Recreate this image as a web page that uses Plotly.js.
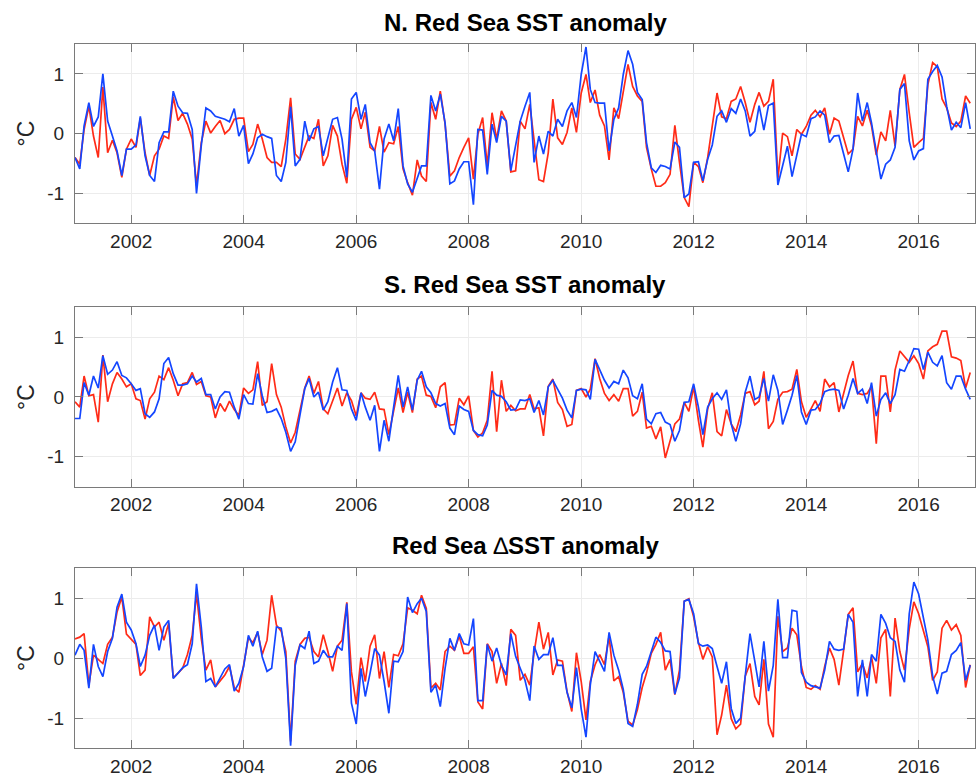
<!DOCTYPE html>
<html>
<head>
<meta charset="utf-8">
<script src="https://cdn.plot.ly/plotly-3.0.1.min.js"></script>
<style>
  html, body { margin: 0; padding: 0; background: #ffffff; }
  #chart { width: 977px; height: 777px; }
</style>
</head>
<body>
<div id="chart"></div>
<script>
// Monthly SST anomalies (°C), January 2001 – December 2016, one row per year.
const startYear = 2001;
const endYear = 2016;

const northBlue = [
  -0.40,-0.59,0.13,0.52,0.12,0.28,1.00,0.21,-0.04,-0.29,-0.70,-0.26,
  -0.26,-0.19,0.29,-0.37,-0.70,-0.80,-0.15,0.03,0.03,0.71,0.46,0.35,
  0.34,0.07,-1.00,-0.20,0.43,0.38,0.29,0.27,0.24,0.20,0.42,-0.04,
  0.14,-0.50,-0.34,-0.07,-0.01,-0.05,-0.08,-0.70,-0.80,-0.48,0.45,-0.54,
  -0.43,0.21,-0.12,0.08,0.12,-0.37,-0.09,0.24,0.27,-0.09,-0.73,0.58,
  0.69,0.24,0.49,-0.15,-0.29,-0.93,-0.09,0.16,-0.12,0.42,-0.54,-0.84,
  -0.98,-0.73,-0.54,-0.54,0.64,0.38,0.66,0.18,-0.84,-0.79,-0.59,-0.47,
  -0.47,-1.19,0.07,0.06,-0.68,0.16,-0.15,0.29,0.21,-0.62,-0.18,0.21,
  0.46,0.69,-0.48,-0.04,-0.34,0.04,-0.04,0.24,0.12,0.38,0.52,0.27,
  0.99,1.45,0.74,0.52,0.51,0.51,-0.29,0.24,0.43,0.99,1.39,1.16,
  0.69,0.57,-0.15,-0.57,-0.65,-0.53,-0.55,-0.59,-0.14,-0.23,-1.07,-1.01,
  -0.48,-0.47,-0.79,-0.43,-0.19,0.29,0.38,0.19,0.42,0.34,0.58,0.38,
  -0.04,0.04,0.47,0.06,0.47,0.51,-0.86,-0.51,-0.21,-0.72,-0.34,-0.01,
  -0.05,0.25,0.28,0.38,0.31,-0.15,-0.04,-0.03,-0.34,-0.64,-0.26,0.68,
  0.21,0.52,0.18,-0.32,-0.76,-0.51,-0.44,-0.23,0.74,0.84,-0.12,-0.44,
  -0.29,-0.25,0.91,1.04,1.14,0.95,0.46,0.06,0.19,0.10,0.52,0.08
];
const northRed = [
  -0.40,-0.51,0.07,0.46,-0.04,-0.40,0.78,-0.32,-0.11,-0.32,-0.73,-0.26,
  -0.09,-0.23,0.26,-0.32,-0.70,-0.37,-0.26,-0.04,-0.08,0.62,0.22,0.34,
  0.16,-0.09,-0.87,-0.15,0.21,0.01,0.12,0.22,0.00,0.07,0.24,0.26,
  0.26,-0.30,-0.18,0.16,-0.09,-0.40,-0.48,-0.48,-0.55,-0.09,0.60,-0.34,
  -0.43,-0.23,-0.04,-0.08,0.24,-0.54,-0.37,0.14,-0.04,-0.51,-0.83,0.24,
  0.44,0.08,0.36,-0.23,-0.29,0.12,-0.31,-0.15,-0.17,0.12,-0.59,-0.82,
  -1.03,-0.44,-0.71,-0.80,0.52,0.24,0.71,0.16,-0.71,-0.62,-0.40,-0.23,
  -0.07,-0.76,-0.01,0.27,-0.54,0.35,-0.09,0.38,0.21,-0.64,-0.62,0.21,
  0.08,0.49,-0.15,-0.77,-0.80,-0.32,0.58,-0.07,-0.18,0.02,0.43,0.02,
  0.68,0.99,0.52,0.73,0.31,0.13,-0.44,0.43,0.25,0.68,1.16,0.79,
  0.63,0.54,-0.23,-0.59,-0.88,-0.88,-0.82,-0.68,0.14,-0.48,-1.07,-1.22,
  -0.48,-0.55,-0.82,-0.40,0.10,0.68,0.28,0.25,0.54,0.58,0.79,0.52,
  0.19,0.49,0.69,0.46,0.54,0.91,-0.76,0.01,-0.05,-0.37,0.07,-0.01,
  0.12,0.31,0.39,0.28,0.43,-0.01,0.26,0.21,-0.07,-0.34,-0.26,0.29,
  0.13,0.39,0.13,-0.36,0.03,-0.12,0.39,-0.21,0.74,0.99,0.35,-0.23,
  -0.15,-0.08,0.82,1.19,1.12,0.58,0.43,0.18,0.12,0.21,0.63,0.51
];

const southBlue = [
  -0.36,-0.36,0.24,0.03,0.35,0.15,0.69,0.38,0.45,0.59,0.36,0.32,
  0.22,0.11,0.14,-0.28,-0.34,-0.25,-0.03,0.56,0.66,0.39,0.20,0.20,
  0.22,0.35,0.25,0.31,0.04,0.04,-0.20,0.00,0.09,0.08,-0.17,-0.37,
  0.04,-0.11,-0.12,0.39,0.02,-0.26,-0.24,-0.20,-0.36,-0.59,-0.91,-0.75,
  -0.30,0.14,0.31,0.00,0.08,-0.22,-0.08,0.25,0.49,0.12,0.11,-0.20,
  -0.39,0.07,-0.17,-0.39,-0.14,-0.91,-0.39,-0.74,-0.17,0.36,-0.17,0.17,
  -0.22,0.28,0.43,0.17,0.07,-0.11,-0.15,-0.11,-0.52,-0.63,-0.15,-0.21,
  -0.24,-0.56,-0.63,-0.65,-0.47,0.11,0.03,0.01,-0.08,-0.22,-0.21,-0.05,
  -0.06,-0.03,-0.26,-0.06,-0.30,0.17,0.28,0.13,-0.02,-0.22,-0.35,0.11,
  0.13,0.12,-0.04,0.63,0.47,0.28,0.15,0.26,0.22,0.45,0.32,0.02,
  -0.03,0.22,-0.37,-0.45,-0.28,-0.26,-0.42,-0.46,-0.74,-0.56,-0.09,-0.08,
  0.22,-0.17,-0.63,-0.17,-0.03,0.07,-0.04,0.12,-0.45,-0.74,-0.45,0.08,
  0.35,-0.04,0.00,0.31,-0.07,0.37,0.11,-0.46,-0.22,0.03,0.36,-0.25,
  -0.46,-0.22,-0.21,-0.11,0.09,0.12,0.13,0.11,-0.20,0.03,0.31,0.06,
  0.13,-0.11,0.24,-0.32,-0.04,0.07,-0.11,0.04,0.46,0.43,0.61,0.81,
  0.80,0.46,0.75,0.58,0.52,0.69,0.24,0.13,0.35,0.35,0.13,-0.04
];
const southRed = [
  -0.08,-0.17,0.35,0.02,0.04,-0.42,0.70,-0.08,0.22,0.41,0.30,0.17,
  0.22,-0.03,-0.06,-0.37,-0.03,0.08,0.35,0.29,0.49,0.28,0.02,0.22,
  0.24,0.41,0.21,0.26,0.02,0.00,-0.35,-0.11,-0.24,-0.07,-0.21,-0.31,
  0.15,0.06,0.12,0.59,-0.14,-0.08,0.56,0.04,-0.17,-0.50,-0.77,-0.59,
  -0.22,0.15,0.35,0.06,0.26,-0.20,-0.28,-0.07,0.15,-0.15,0.07,-0.06,
  -0.32,0.07,-0.02,-0.04,0.08,-0.20,-0.21,-0.63,-0.20,0.15,-0.26,0.08,
  -0.26,0.30,0.35,0.03,0.01,-0.18,0.17,0.24,-0.47,-0.46,-0.02,-0.13,
  0.02,-0.56,-0.67,-0.60,-0.39,0.43,-0.58,0.28,-0.24,-0.14,-0.23,-0.20,
  -0.20,0.04,-0.20,-0.18,-0.65,0.18,0.30,-0.09,-0.21,-0.49,-0.46,0.11,
  0.14,0.00,0.13,0.64,0.31,0.06,-0.06,0.04,-0.07,0.14,0.14,-0.32,
  -0.24,0.08,-0.52,-0.49,-0.70,-0.50,-1.02,-0.75,-0.45,-0.37,-0.09,-0.24,
  0.17,-0.39,-0.84,-0.20,0.07,-0.58,-0.65,-0.21,-0.45,-0.58,-0.30,0.06,
  0.09,-0.13,-0.07,0.43,-0.53,-0.41,-0.04,0.08,0.09,0.13,0.46,-0.08,
  -0.34,-0.20,-0.06,-0.24,0.30,0.17,0.24,-0.25,0.08,0.36,0.60,0.06,
  0.04,0.06,0.18,-0.78,0.35,0.35,-0.25,0.45,0.77,0.67,0.58,0.69,
  0.56,0.30,0.77,0.84,0.88,1.10,1.10,0.67,0.65,0.61,0.15,0.41
];

const deltaBlue = [
  0.05,0.23,0.13,-0.50,0.23,-0.14,-0.31,0.11,0.33,0.85,1.07,0.60,
  0.47,0.24,-0.14,0.05,0.38,0.55,0.13,0.52,0.63,-0.34,-0.25,-0.16,
  -0.11,0.24,1.24,0.52,-0.39,-0.34,-0.48,-0.34,-0.18,-0.11,-0.55,-0.42,
  -0.14,0.38,0.20,0.45,0.02,-0.22,-0.17,0.52,0.50,-0.01,-1.46,-0.12,
  0.22,0.16,0.45,-0.09,-0.05,0.13,0.02,0.02,0.20,0.13,0.91,-0.75,
  -1.10,-0.17,-0.64,-0.25,0.16,0.05,-0.39,-0.92,-0.05,-0.06,0.11,1.02,
  0.76,0.91,1.00,0.78,-0.57,-0.45,-0.81,-0.17,0.33,0.13,0.41,0.24,
  0.22,0.66,-0.71,-0.71,0.23,-0.05,0.17,-0.12,-0.28,0.41,0.03,-0.17,
  -0.37,-0.71,0.20,-0.02,0.06,0.06,0.34,-0.12,-0.12,-0.57,-0.83,-0.16,
  -0.85,-1.32,-0.45,0.11,-0.05,-0.22,0.43,0.05,-0.20,-0.52,-1.09,-1.14,
  -0.77,-0.27,-0.14,0.13,0.35,0.26,0.12,0.11,-0.60,-0.33,0.95,0.98,
  0.74,0.24,0.20,0.22,0.16,-0.14,-0.42,-0.06,-0.84,-1.09,-1.00,-0.30,
  0.41,-0.05,-0.48,0.28,-0.55,-0.12,0.98,0.01,0.01,0.80,0.78,-0.24,
  -0.40,-0.46,-0.48,-0.50,-0.20,0.28,0.15,0.13,0.15,0.73,0.60,-0.64,
  -0.03,-0.64,0.06,-0.05,0.73,0.58,0.34,0.28,-0.20,-0.40,0.74,1.27,
  1.07,0.69,0.30,-0.30,-0.60,-0.25,-0.22,0.06,0.13,0.26,-0.37,-0.12
];
const deltaRed = [
  0.32,0.35,0.41,-0.45,0.05,-0.02,-0.09,0.23,0.35,0.77,1.02,0.40,
  0.32,0.23,-0.29,-0.20,0.69,0.52,0.60,0.30,0.58,-0.33,-0.25,-0.17,
  0.06,0.38,1.07,0.33,-0.20,-0.03,-0.48,-0.37,-0.28,-0.14,-0.49,-0.57,
  -0.09,0.34,0.26,0.43,0.06,0.30,1.05,0.55,0.45,0.11,-1.39,-0.05,
  0.23,0.33,0.35,0.11,0.02,0.39,0.11,-0.22,0.20,0.30,0.93,-0.23,
  -0.77,0.01,-0.39,0.20,0.39,-0.34,0.11,-0.49,0.06,0.04,0.24,0.84,
  0.80,0.74,1.05,0.83,-0.50,-0.42,-0.53,0.11,0.20,0.13,0.37,0.08,
  0.08,0.19,-0.73,-0.85,0.24,0.11,-0.42,-0.09,-0.46,0.48,0.38,-0.37,
  -0.27,-0.45,0.09,0.60,0.15,0.43,-0.28,-0.03,-0.05,-0.56,-0.89,0.09,
  -0.39,-1.03,-0.39,-0.11,0.06,-0.11,0.37,-0.38,-0.31,-0.57,-1.05,-1.12,
  -0.86,-0.49,-0.25,0.08,0.23,0.43,-0.20,-0.02,-0.61,-0.20,0.95,0.99,
  0.69,0.26,-0.02,0.19,0.02,-1.28,-0.95,-0.45,-1.01,-1.18,-1.10,-0.30,
  -0.09,-0.64,-0.78,-0.02,-1.10,-1.32,0.70,0.11,0.17,0.50,0.39,-0.14,
  -0.49,-0.52,-0.46,-0.52,-0.14,0.17,-0.02,-0.45,0.13,0.73,0.84,-0.23,
  -0.09,-0.33,0.02,-0.42,0.34,0.48,-0.64,0.67,0.11,-0.20,0.49,0.94,
  0.74,0.47,0.19,-0.37,-0.23,0.50,0.63,0.47,0.56,0.38,-0.49,-0.11
];

// Panel titles as rich text; the delta sign is set in a regular weight
const panelTitles = [
  '<b>N. Red Sea SST anomaly</b>',
  '<b>S. Red Sea SST anomaly</b>',
  '<b>Red Sea </b>\u2206<b>SST anomaly</b>'
];
const yTickValues = [-1, 0, 1];
const yTickLabels = ['-1', '0', '1'];
const unitLabel = '\u00B0C';

// Month-start dates for the time axis
const months = [];
for (let y = startYear; y <= endYear; y++) {
  for (let m = 1; m <= 12; m++) {
    months.push(y + '-' + String(m).padStart(2, '0') + '-01');
  }
}

const BLUE = '#1446ff';
const RED = '#ff2b17';
const FONT = 'Liberation Sans, Arial, Helvetica, sans-serif';
const AXIS_COLOR = '#7a7a7a';

const panels = [
  { blue: northBlue, red: northRed, domain: [0.7453, 1.0] },
  { blue: southBlue, red: southRed, domain: [0.3712, 0.626] },
  { blue: deltaBlue, red: deltaRed, domain: [0.0, 0.2553] }
];

const traces = [];
const layout = {
  width: 977,
  height: 777,
  margin: { l: 75, r: 2, t: 44, b: 29 },
  paper_bgcolor: '#ffffff',
  plot_bgcolor: '#ffffff',
  showlegend: false,
  font: { family: FONT, size: 19, color: '#262626' },
  annotations: []
};

panels.forEach((p, i) => {
  const n = i === 0 ? '' : String(i + 1);
  const xa = 'x' + n, ya = 'y' + n;
  traces.push({ x: months, y: p.red, xaxis: xa, yaxis: ya, type: 'scatter', mode: 'lines',
                line: { color: RED, width: 1.7 }, hoverinfo: 'skip' });
  traces.push({ x: months, y: p.blue, xaxis: xa, yaxis: ya, type: 'scatter', mode: 'lines',
                line: { color: BLUE, width: 1.7 }, hoverinfo: 'skip' });

  layout['xaxis' + n] = {
    type: 'date', anchor: ya, domain: [0, 1],
    range: [startYear + '-01-01', (endYear + 1) + '-01-01'],
    tick0: '2002-01-01', dtick: 'M24', tickformat: '%Y',
    showgrid: true, gridcolor: '#ececec', gridwidth: 1, zeroline: false,
    showline: true, linecolor: AXIS_COLOR, linewidth: 1, mirror: 'ticks',
    ticks: 'inside', ticklen: 8, tickcolor: AXIS_COLOR, tickwidth: 1,
    ticklabelstandoff: 1,
    tickfont: { family: FONT, size: 19, color: '#262626' }
  };
  layout['yaxis' + n] = {
    anchor: xa, domain: p.domain, range: [-1.5, 1.5],
    tickvals: yTickValues, ticktext: yTickLabels,
    showgrid: true, gridcolor: '#ececec', gridwidth: 1, zeroline: false,
    showline: true, linecolor: AXIS_COLOR, linewidth: 1, mirror: 'ticks',
    ticks: 'inside', ticklen: 8, tickcolor: AXIS_COLOR, tickwidth: 1,
    ticklabelstandoff: 6,
    tickfont: { family: FONT, size: 19, color: '#262626' },
    title: { text: unitLabel, standoff: 6, font: { family: FONT, size: 23, color: '#262626' } }
  };
});

// Panel titles above each axes box
const titleY = [1.031, 0.659, 0.288];
panelTitles.forEach((t, i) => {
  layout.annotations.push({
    text: t, xref: 'paper', yref: 'paper', x: 0.5, y: titleY[i],
    xanchor: 'center', yanchor: 'middle', showarrow: false,
    font: { family: FONT, size: 24, color: '#000000' }
  });
});

Plotly.newPlot('chart', traces, layout, { staticPlot: true, displayModeBar: false });
</script>
</body>
</html>
